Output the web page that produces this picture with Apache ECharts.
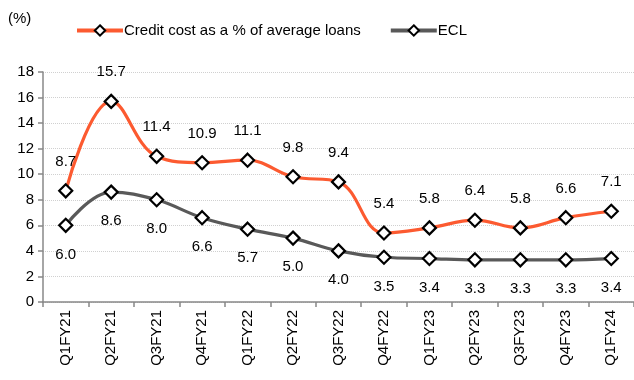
<!DOCTYPE html>
<html><head><meta charset="utf-8">
<script src="https://cdn.jsdelivr.net/npm/echarts@6/dist/echarts.min.js"></script>
<style>html,body{margin:0;padding:0;background:#fff}#c{width:634px;height:380px}</style>
</head><body><div id="c"></div>
<script>
const categories = ["Q1FY21","Q2FY21","Q3FY21","Q4FY21","Q1FY22","Q2FY22","Q3FY22","Q4FY22","Q1FY23","Q2FY23","Q3FY23","Q4FY23","Q1FY24"];
const creditCost = [8.7,15.7,11.4,10.9,11.1,9.8,9.4,5.4,5.8,6.4,5.8,6.6,7.1];
const ecl = [6.0,8.6,8.0,6.6,5.7,5.0,4.0,3.5,3.4,3.3,3.3,3.3,3.4];
const font = "'Liberation Sans Narrow','Arial Narrow','Liberation Sans',sans-serif";
const chart = echarts.init(document.getElementById('c'), null, {renderer:'canvas'});
const marker = {symbol:'diamond', symbolSize:13, itemStyle:{color:'#fff', borderColor:'#000', borderWidth:2.2}};
chart.setOption({
  animation:false,
  textStyle:{fontFamily:font},
  graphic:[{type:'text', left:8, top:11, style:{text:'(%)', font:'15px '+font, fill:'#000'}}],
  legend:{top:18, left:70, itemGap:28, itemWidth:46, itemHeight:13,
    lineStyle:{width:4},
    textStyle:{fontFamily:font, fontSize:15, color:'#000', padding:[0,0,0,-4]},
    data:['Credit cost as a % of average loans','ECL']},
  grid:{left:43, top:72, width:597, height:230},
  xAxis:{type:'category', data:categories, boundaryGap:true,
    axisLine:{lineStyle:{color:'#888', width:1.5}},
    axisTick:{show:true, length:5, lineStyle:{color:'#888', width:1.5}},
    axisLabel:{rotate:90, color:'#000', fontFamily:font, fontSize:15, margin:8}},
  yAxis:{type:'value', min:0, max:18, interval:2,
    axisLine:{show:true, lineStyle:{color:'#888', width:1.5}},
    axisTick:{show:true, inside:false, length:5, lineStyle:{color:'#888', width:1.5}},
    splitLine:{lineStyle:{color:'#d0d0d0', type:'dotted'}},
    axisLabel:{color:'#000', fontFamily:font, fontSize:15, margin:9}},
  series:[
    Object.assign({name:'Credit cost as a % of average loans', type:'line', data:creditCost, smooth:0.4,
      lineStyle:{color:'#FC5A30', width:3.2},
      label:{show:true, position:'top', distance:14, color:'#000', fontFamily:font, fontSize:15, formatter:p=>p.value.toFixed(1)},
      z:3}, marker),
    Object.assign({name:'ECL', type:'line', data:ecl, smooth:0.4,
      lineStyle:{color:'#595959', width:3.2},
      label:{show:true, position:'bottom', distance:14, color:'#000', fontFamily:font, fontSize:15, formatter:p=>p.value.toFixed(1)},
      z:2}, marker)
  ]
});
</script></body></html>
